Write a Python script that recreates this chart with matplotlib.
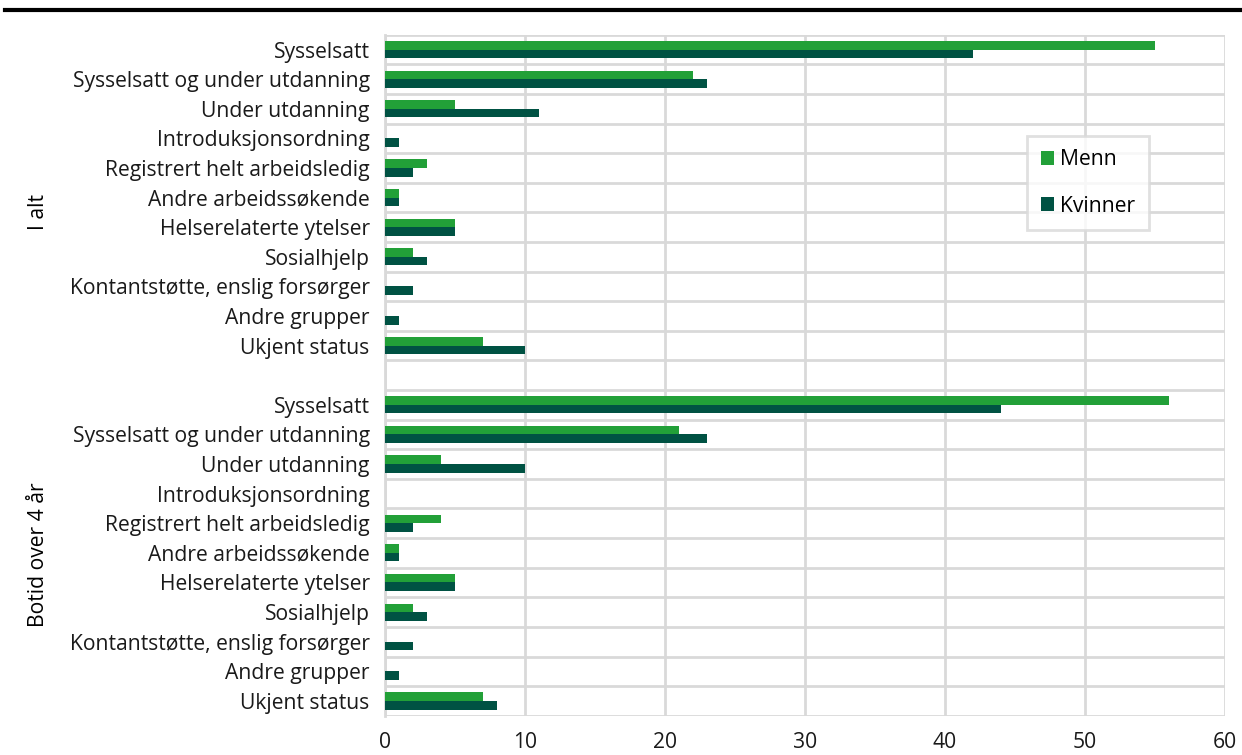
import matplotlib.pyplot as plt
import numpy as np

plt.rcParams['font.family'] = ['Open Sans', 'DejaVu Sans']

categories = ["Sysselsatt", "Sysselsatt og under utdanning", "Under utdanning",
              "Introduksjonsordning", "Registrert helt arbeidsledig",
              "Andre arbeidssøkende", "Helserelaterte ytelser", "Sosialhjelp",
              "Kontantstøtte, enslig forsørger", "Andre grupper", "Ukjent status"]
groups = ["I alt", "Botid over 4 år"]

menn_alt = [55, 22, 5, 0, 3, 1, 5, 2, 0, 0, 7]
kvinner_alt = [42, 23, 11, 1, 2, 1, 5, 3, 2, 1, 10]
menn_botid = [56, 21, 4, 0, 4, 1, 5, 2, 0, 0, 7]
kvinner_botid = [44, 23, 10, 0, 2, 1, 5, 3, 2, 1, 8]

green = "#22a038"
dark = "#005243"
grid_c = "#d9d9d9"
fs = 15.2

fig = plt.figure(figsize=(12.42, 7.55), dpi=100)
ax = fig.add_axes([0.31, 0.052, 0.676, 0.902])

n = len(categories)
pos1 = np.arange(n)
pos2 = np.arange(n) + n + 1
h = 0.29

ax.barh(pos1 - h / 2, menn_alt, height=h, color=green, label="Menn", zorder=3)
ax.barh(pos1 + h / 2, kvinner_alt, height=h, color=dark, label="Kvinner", zorder=3)
ax.barh(pos2 - h / 2, menn_botid, height=h, color=green, zorder=3)
ax.barh(pos2 + h / 2, kvinner_botid, height=h, color=dark, zorder=3)

total = 2 * n + 1
ax.set_ylim(total - 0.5, -0.5)
ax.set_xlim(0, 60)
ax.set_xticks(range(0, 61, 10))
ax.set_yticks(list(pos1) + list(pos2))
ax.set_yticklabels(categories + categories)
ax.set_yticks(np.arange(-0.5, total, 1), minor=True)
ax.tick_params(axis='both', which='both', length=0, labelsize=fs, colors="#1a1a1a")
ax.tick_params(axis='x', pad=12)
ax.tick_params(axis='y', pad=11)

ax.grid(axis='x', which='major', color=grid_c, linewidth=2, zorder=0)
ax.grid(axis='y', which='minor', color=grid_c, linewidth=2, zorder=0)
for s in ['top', 'right', 'bottom']:
    ax.spines[s].set_visible(False)
ax.spines['left'].set_color(grid_c)
ax.spines['left'].set_linewidth(2)

# group labels
fig.text(0.031, 1 - 212 / 755, groups[0], rotation=90, ha='center', va='center', fontsize=fs)
fig.text(0.031, 1 - 555 / 755, groups[1], rotation=90, ha='center', va='center', fontsize=fs)

# top rule
fig.add_artist(plt.Line2D([0.004, 1.0], [1 - 10 / 755, 1 - 10 / 755], color="black", linewidth=3))

leg = ax.legend(loc='upper left', bbox_to_anchor=(0.765, 0.852), fontsize=fs,
                frameon=True, fancybox=False, handlelength=0.6, handleheight=0.6,
                labelspacing=1.2, handletextpad=0.3, borderpad=0.65, borderaxespad=0)
leg.get_frame().set_edgecolor(grid_c)
leg.get_frame().set_linewidth(2)

fig.savefig("out.png", dpi=100)
